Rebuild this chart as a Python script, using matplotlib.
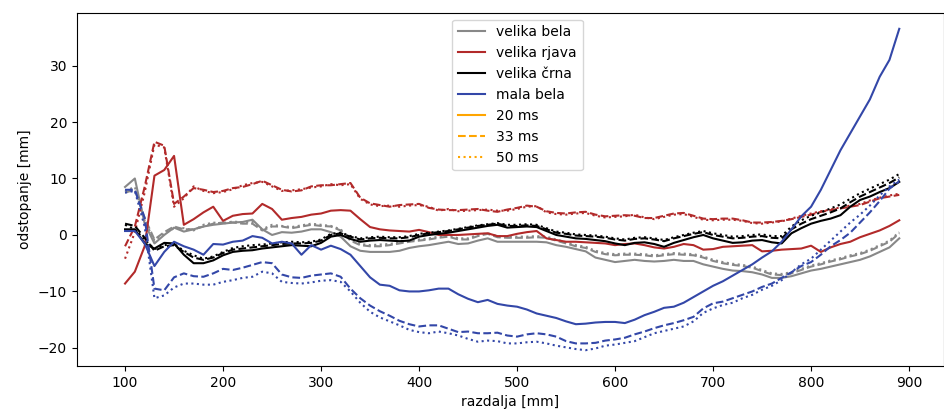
import matplotlib.pyplot as plt
from matplotlib.lines import Line2D

# razdalja [mm], korak 10 mm
razdalja = list(range(100, 900, 10))

bela_20 = [8.5, 10.0, 2.0, -1.5, 0.0, 1.3, 0.6, 1.0, 1.5, 1.8,
           2.0, 2.2, 2.3, 2.7, 1.0, 0.0, 0.5, 0.4, 0.6, 1.0,
           1.0, 0.5, -0.3, -2.0, -2.8, -3.0, -3.0, -3.0, -2.8, -2.3,
           -2.0, -1.8, -1.5, -1.2, -1.6, -1.5, -1.0, -0.6, -1.2, -1.2,
           -1.2, -1.2, -1.2, -1.3, -1.8, -2.1, -2.5, -2.9, -4.0, -4.4,
           -4.8, -4.6, -4.4, -4.6, -4.7, -4.6, -4.4, -4.6, -4.6, -5.2,
           -5.6, -6.0, -6.3, -6.4, -6.6, -7.0, -7.6, -7.6, -7.3, -6.8,
           -6.3, -6.0, -5.6, -5.2, -4.8, -4.4, -3.8, -3.0, -2.2, -0.6]
bela_33 = [7.5, 8.0, 3.0, -0.8, 0.5, 1.5, 1.0, 1.0, 1.5, 2.0,
           2.2, 2.2, 2.0, 2.0, 0.8, 1.5, 1.5, 1.2, 1.5, 1.8,
           1.6, 1.5, 0.8, -1.0, -1.8, -2.0, -2.0, -1.8, -1.5, -1.2,
           -1.0, -0.8, -0.5, -0.3, -0.8, -0.8, -0.2, 0.2, -0.4, -0.5,
           -0.5, -0.5, -0.4, -0.5, -1.0, -1.5, -2.0, -2.3, -3.0, -3.4,
           -3.6, -3.5, -3.5, -3.6, -3.8, -3.6, -3.4, -3.5, -3.6, -4.0,
           -4.6, -5.0, -5.3, -5.5, -5.8, -6.4, -7.0, -7.1, -6.8, -6.2,
           -5.6, -5.2, -4.7, -4.3, -3.8, -3.4, -2.8, -2.0, -1.2, 0.3]
bela_50 = [7.8, 8.5, 2.5, -1.0, 0.2, 1.2, 1.2, 0.8, 1.8, 2.2,
           2.0, 2.4, 2.2, 2.3, 1.0, 1.8, 1.6, 1.4, 1.7, 2.0,
           1.8, 1.6, 1.0, -0.8, -1.6, -1.8, -1.7, -1.6, -1.3, -1.0,
           -0.8, -0.6, -0.3, 0.0, -0.6, -0.6, 0.0, 0.3, -0.2, -0.3,
           -0.3, -0.3, -0.2, -0.3, -0.8, -1.3, -1.8, -2.1, -2.8, -3.2,
           -3.4, -3.3, -3.3, -3.4, -3.6, -3.4, -3.2, -3.3, -3.4, -3.8,
           -4.4, -4.8, -5.1, -5.3, -5.6, -6.2, -6.8, -6.9, -6.6, -6.0,
           -5.4, -5.0, -4.5, -4.1, -3.6, -3.2, -2.6, -1.8, -1.0, 0.5]

rjava_20 = [-8.6, -6.5, -2.0, 10.5, 11.5, 14.0, 1.8, 2.8, 4.0, 5.0,
            2.5, 3.4, 3.7, 3.8, 5.5, 4.6, 2.7, 3.0, 3.2, 3.6,
            3.8, 4.3, 4.4, 4.3, 2.8, 1.4, 1.0, 0.8, 0.7, 0.6,
            0.9, 0.5, 0.0, 0.0, 0.0, 0.1, 0.2, 0.3, -0.2, -0.2,
            0.2, 0.5, 0.7, -0.6, -0.9, -1.2, -1.2, -1.3, -1.4, -1.5,
            -1.8, -1.6, -1.5, -1.8, -2.2, -2.4, -2.1, -1.6, -1.8, -2.6,
            -2.5, -2.1, -2.0, -1.9, -1.8, -2.9, -2.8, -2.6, -2.5, -2.4,
            -1.9, -3.0, -2.2, -1.6, -1.2, -0.4, 0.2, 0.8, 1.6, 2.6]
rjava_33 = [-2.0, 1.5, 8.5, 16.5, 15.8, 5.5, 6.8, 8.3, 8.0, 7.6,
            7.8, 8.3, 8.5, 9.0, 9.6, 8.8, 8.0, 7.7, 7.9, 8.6,
            8.8, 8.8, 9.0, 9.2, 6.6, 5.6, 5.3, 5.0, 5.3, 5.4,
            5.5, 4.8, 4.5, 4.4, 4.4, 4.5, 4.6, 4.3, 4.1, 4.5,
            4.8, 5.2, 5.0, 4.2, 3.9, 3.8, 4.0, 4.1, 3.6, 3.3,
            3.4, 3.5, 3.4, 3.0, 3.0, 3.4, 3.8, 3.9, 3.4, 2.9,
            2.8, 2.9, 2.9, 2.6, 2.2, 2.2, 2.3, 2.5, 2.8, 3.2,
            3.6, 4.1, 4.4, 4.7, 5.0, 5.3, 5.9, 6.5, 6.8, 7.1]
rjava_50 = [-4.2, 0.5, 7.5, 16.0, 15.5, 5.0, 6.5, 8.6, 7.8, 7.4,
            7.6, 8.1, 8.8, 9.2, 9.4, 8.6, 7.8, 7.9, 8.1, 8.4,
            8.6, 9.0, 8.8, 9.0, 6.4, 5.4, 5.1, 5.2, 5.0, 5.2,
            5.3, 5.0, 4.3, 4.6, 4.2, 4.3, 4.4, 4.5, 4.3, 4.3,
            4.6, 5.0, 5.1, 4.0, 3.7, 3.6, 3.8, 3.9, 3.4, 3.1,
            3.2, 3.3, 3.6, 3.1, 2.8, 3.2, 3.6, 3.7, 3.2, 2.7,
            2.6, 2.7, 2.7, 2.5, 2.1, 2.0, 2.2, 2.4, 2.9, 3.4,
            3.8, 4.2, 4.5, 4.9, 5.2, 5.5, 6.1, 6.6, 7.0, 7.3]

crna_20 = [1.0, 1.0, -1.5, -2.4, -1.4, -1.5, -3.5, -5.0, -5.0, -4.5,
           -3.6, -3.0, -2.8, -2.7, -2.4, -2.2, -2.0, -1.8, -1.9, -2.0,
           -1.4, -0.3, 0.0, -0.7, -1.2, -1.0, -0.9, -1.0, -1.1, -1.0,
           -0.3, 0.0, 0.2, 0.4, 0.7, 1.0, 1.3, 1.6, 1.8, 1.3,
           1.4, 1.5, 1.4, 0.7, 0.0, -0.3, -0.6, -0.7, -0.9, -1.1,
           -1.5, -1.8, -1.4, -1.3, -1.6, -2.1, -1.4, -0.9, -0.4, 0.0,
           -0.6, -1.0, -1.4, -1.3, -1.0, -0.9, -1.3, -1.5, 0.3, 1.2,
           2.0, 2.5, 2.9, 3.5, 5.0, 6.2, 6.8, 7.6, 8.3, 9.4]
crna_33 = [2.0, 1.6, -0.5, -2.8, -2.0, -1.8, -3.0, -4.0, -4.4, -4.0,
           -3.2, -2.6, -2.4, -2.2, -2.0, -1.8, -1.6, -1.5, -1.5, -1.4,
           -1.0, 0.0, 0.3, -0.3, -0.8, -0.6, -0.5, -0.6, -0.6, -0.4,
           0.0, 0.3, 0.5, 0.7, 1.0, 1.3, 1.6, 1.8, 2.0, 1.6,
           1.6, 1.7, 1.6, 1.0, 0.4, 0.2, -0.1, -0.2, -0.3, -0.5,
           -0.8, -1.0, -0.7, -0.6, -0.8, -1.1, -0.6, -0.2, 0.2, 0.5,
           0.0, -0.3, -0.6, -0.5, -0.3, -0.2, -0.5, -0.6, 1.0, 2.0,
           2.8, 3.4, 4.0, 4.7, 5.8, 6.8, 7.6, 8.4, 9.2, 10.2]
crna_50 = [1.8, 1.0, -0.8, -2.5, -1.8, -1.6, -2.8, -3.6, -4.2, -3.8,
           -3.0, -2.3, -2.0, -1.8, -1.7, -1.5, -1.3, -1.2, -1.3, -1.2,
           -0.8, 0.2, 0.4, -0.2, -0.6, -0.4, -0.3, -0.4, -0.4, -0.2,
           0.2, 0.4, 0.6, 0.8, 1.1, 1.4, 1.7, 1.9, 2.1, 1.8,
           1.8, 1.9, 1.8, 1.2, 0.6, 0.4, 0.1, 0.0, -0.1, -0.3,
           -0.6, -0.8, -0.5, -0.4, -0.6, -0.9, -0.4, 0.0, 0.4, 0.7,
           0.3, 0.0, -0.3, -0.2, 0.0, 0.1, -0.2, -0.2, 1.5, 2.6,
           3.4, 4.0, 4.7, 5.4, 6.4, 7.4, 8.2, 9.0, 9.8, 10.8]

mala_20 = [0.7, 0.7, -1.5, -5.5, -3.0, -1.2, -2.0, -2.6, -3.5, -1.6,
           -1.7, -1.2, -1.0, -0.2, -0.5, -1.5, -1.2, -1.5, -3.5, -1.8,
           -2.6, -1.9, -2.5, -3.5, -5.5, -7.5, -8.8, -9.0, -9.8, -10.0,
           -10.0, -9.8, -9.5, -9.5, -10.5, -11.3, -11.9, -11.5, -12.2, -12.5,
           -12.7, -13.2, -13.9, -14.3, -14.7, -15.3, -15.8, -15.7, -15.5, -15.4,
           -15.4, -15.6, -15.0, -14.2, -13.6, -12.9, -12.7, -12.0, -11.0, -10.0,
           -9.0, -8.2, -7.2, -6.2, -5.2, -4.0, -2.9, -1.2, 1.0, 3.3,
           5.0, 8.0, 11.5, 15.0, 18.0, 21.0, 24.0, 28.0, 31.0, 36.5]
mala_33 = [8.0, 8.0, 3.0, -9.5, -9.8, -7.5, -6.8, -7.3, -7.4, -6.8,
           -6.0, -6.2, -5.8, -5.3, -4.8, -5.0, -7.0, -7.5, -7.6, -7.2,
           -7.0, -6.8, -7.4, -9.5, -11.2, -12.5, -13.5, -14.3, -15.2, -15.8,
           -16.2, -16.0, -16.0, -16.6, -17.2, -17.1, -17.4, -17.4, -17.3, -17.8,
           -18.0, -17.6, -17.4, -17.6, -18.0, -18.8, -19.2, -19.2, -19.1, -18.7,
           -18.5, -18.2, -17.6, -17.1, -16.5, -16.0, -15.6, -15.1, -14.5, -13.0,
           -12.1, -11.8, -11.2, -10.6, -10.0, -9.2, -8.6, -7.6, -6.6, -5.5,
           -4.8, -3.5, -2.0, -0.9, 0.4, 2.2, 4.0, 6.0, 8.2, 9.5]
mala_50 = [7.5, 7.8, 1.5, -11.2, -10.7, -9.3, -8.6, -8.6, -8.8, -8.8,
           -8.3, -8.0, -7.6, -7.4, -6.5, -6.8, -8.3, -8.5, -8.6, -8.4,
           -8.1, -8.0, -8.3, -10.0, -12.0, -13.6, -14.6, -15.3, -16.0, -16.8,
           -17.2, -17.4, -17.1, -17.4, -17.8, -18.4, -18.9, -18.7, -18.8, -19.2,
           -19.2, -19.0, -18.9, -19.2, -19.6, -19.9, -20.2, -20.4, -20.1, -19.6,
           -19.4, -19.1, -18.8, -18.1, -17.4, -17.0, -16.6, -16.2, -15.3, -13.8,
           -13.0, -12.4, -12.0, -11.2, -10.6, -9.7, -9.0, -8.0, -6.6, -5.2,
           -4.2, -2.6, -1.0, 0.6, 2.2, 3.6, 5.2, 7.0, 8.6, 9.8]

ozadja = ["velika bela", "velika rjava", "velika črna", "mala bela"]
barve = ["#888888", "#b22a2a", "#000000", "#3347a8"]
casi = ["20 ms", "33 ms", "50 ms"]
stili = ["-", "--", ":"]

serije = [
    [bela_20, bela_33, bela_50],
    [rjava_20, rjava_33, rjava_50],
    [crna_20, crna_33, crna_50],
    [mala_20, mala_33, mala_50],
]


def main():
    fig = plt.figure(figsize=(9.45, 4.17), dpi=100)
    ax = fig.add_axes([0.0812, 0.1223, 0.9178, 0.8472])

    for barva, vrste in zip(barve, serije):
        for stil, vrednosti in zip(stili, vrste):
            ax.plot(razdalja, vrednosti, color=barva, linestyle=stil, linewidth=1.5)

    ax.set_xlim(50.7, 935.7)
    ax.set_ylim(-23.2, 39.35)
    ax.set_xticks([100, 200, 300, 400, 500, 600, 700, 800, 900])
    ax.set_yticks([-20, -10, 0, 10, 20, 30])
    ax.set_xlabel("razdalja [mm]")
    ax.set_ylabel("odstopanje [mm]")

    # legenda: barve za ozadja, stili za case
    rocaji = [Line2D([], [], color=b, linestyle="-") for b in barve]
    rocaji += [Line2D([], [], color="orange", linestyle=s) for s in stili]
    ax.legend(rocaji, ozadja + casi, loc="upper center", bbox_to_anchor=(0.508, 1.0))

    fig.savefig("out.png", dpi=100)


if __name__ == "__main__":
    main()
